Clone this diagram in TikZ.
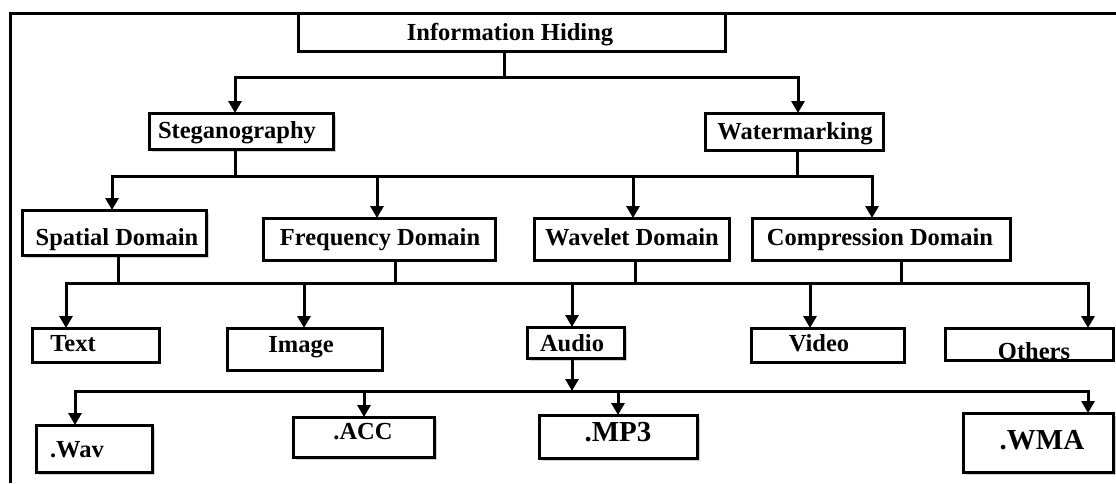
\documentclass[tikz,border=0pt]{standalone}
\usepackage{fontspec}
\setmainfont{Liberation Serif}
\usetikzlibrary{arrows.meta,shadows}
\begin{document}
\begin{tikzpicture}[x=1pt,y=-1pt,
  ln/.style={line width=3pt,line cap=rect},
  arr/.style={line width=3pt,-{Triangle[width=13pt,length=12pt]}},
  box/.style={draw,line width=3pt,fill=white,inner sep=0pt,outer sep=0pt},
  shd/.style={drop shadow={shadow xshift=3pt,shadow yshift=-3pt,fill=black!30,opacity=0.6}},
  lbl/.style={font=\bfseries\fontsize{24.5}{26}\selectfont,inner sep=0pt,anchor=base},
  big/.style={font=\bfseries\fontsize{29}{31}\selectfont,inner sep=0pt,anchor=base}
]
\useasboundingbox (0,0) rectangle (1116,483);
% frame
\coordinate (frTL) at (10,13);
\coordinate (frBL) at (10,483);
\coordinate (frTR) at (1116,13);
\draw[ln,line cap=butt] (frBL) -- (frTL) -- (frTR);

% boxes
\node[box,minimum width=427pt,minimum height=38pt] (ih) at (511.5,32) {};
\node[box,shd,minimum width=184pt,minimum height=36pt] (steg) at (241,131) {};
\node[box,minimum width=178pt,minimum height=37pt] (water) at (794,131.5) {};
\node[box,shd,minimum width=184pt,minimum height=45pt] (spat) at (114,232.5) {};
\node[box,minimum width=232pt,minimum height=42pt] (freq) at (379,239) {};
\node[box,minimum width=195pt,minimum height=42pt] (wave) at (631.5,239) {};
\node[box,minimum width=258pt,minimum height=42pt] (comp) at (881,239) {};
\node[box,minimum width=127pt,minimum height=34pt] (text) at (95.5,345) {};
\node[box,minimum width=155pt,minimum height=42pt] (image) at (304.5,349) {};
\node[box,shd,minimum width=97pt,minimum height=31pt] (audio) at (575.5,342.5) {};
\node[box,minimum width=153pt,minimum height=34pt] (video) at (827.5,345) {};
\node[box,minimum width=168pt,minimum height=32pt] (others) at (1029,344) {};
\node[box,shd,minimum width=116pt,minimum height=47pt] (wav) at (94,448.5) {};
\node[box,shd,minimum width=141pt,minimum height=40pt] (acc) at (363.5,437) {};
\node[box,shd,minimum width=158pt,minimum height=43pt] (mp3) at (618,436.5) {};
\node[box,shd,minimum width=150pt,minimum height=59pt] (wma) at (1038,442.5) {};

% labels (base anchored)
\node[lbl] (tih) at (510,40) {Information Hiding};
\node[lbl] (tsteg) at (237,138) {Steganography};
\node[lbl] (twater) at (795,139) {Watermarking};
\node[lbl] (tspat) at (117,245) {Spatial Domain};
\node[lbl] (tfreq) at (380,245) {Frequency Domain};
\node[lbl] (twave) at (632,245) {Wavelet Domain};
\node[lbl] (tcomp) at (880,245) {Compression Domain};
\node[lbl] (ttext) at (73,351) {Text};
\node[lbl] (timage) at (301,352) {Image};
\node[lbl] (taudio) at (572,351) {Audio};
\node[lbl] (tvideo) at (819,351) {Video};
\begin{scope}
\clip (others.north west) rectangle ([yshift=1.5pt]others.south east);
\node[lbl] (tothers) at (1034,359) {Others};
\end{scope}
\node[lbl] (twav) at (77,457) {.Wav};
\node[lbl] (tacc) at (363,439) {.ACC};
\node[big] (tmp3) at (618,441) {.MP3};
\node[big] (twma) at (1042,449) {.WMA};

% level 1
\coordinate (d0) at (504,77);
\coordinate (r1L) at (235,77);
\coordinate (r1R) at (798,77);
\draw[ln] (d0 |- ih.south) -- (d0);
\draw[ln] (r1L) -- (r1R);
\draw[arr] (r1L) -- (r1L |- steg.north);
\draw[arr] (r1R) -- (r1R |- water.north);

% level 2
\coordinate (d1a) at (235,176);
\coordinate (d1b) at (797,176);
\coordinate (r2L) at (112,176);
\coordinate (r2R) at (872,176);
\coordinate (a2b) at (377,176);
\coordinate (a2c) at (633,176);
\draw[ln] (d1a |- steg.south) -- (d1a);
\draw[ln] (d1b |- water.south) -- (d1b);
\draw[ln] (r2L) -- (r2R);
\draw[arr] (r2L) -- (r2L |- spat.north);
\draw[arr] (a2b) -- (a2b |- freq.north);
\draw[arr] (a2c) -- (a2c |- wave.north);
\draw[arr] (r2R) -- (r2R |- comp.north);

% level 3
\coordinate (d2a) at (118,283);
\coordinate (d2b) at (395,283);
\coordinate (d2c) at (635,283);
\coordinate (d2d) at (901,283);
\coordinate (r3L) at (66,283);
\coordinate (r3R) at (1088,283);
\coordinate (a3b) at (304,283);
\coordinate (a3c) at (572,283);
\coordinate (a3d) at (810,283);
\draw[ln] (d2a |- spat.south) -- (d2a);
\draw[ln] (d2b |- freq.south) -- (d2b);
\draw[ln] (d2c |- wave.south) -- (d2c);
\draw[ln] (d2d |- comp.south) -- (d2d);
\draw[ln] (r3L) -- (r3R);
\draw[arr] (r3L) -- (r3L |- text.north);
\draw[arr] (a3b) -- (a3b |- image.north);
\draw[arr] (a3c) -- (a3c |- audio.north);
\draw[arr] (a3d) -- (a3d |- video.north);
\draw[arr] (r3R) -- (r3R |- others.north);

% level 4
\coordinate (d3) at (572,391);
\coordinate (r4L) at (75,391);
\coordinate (r4R) at (1088,391);
\coordinate (a4b) at (364,391);
\coordinate (a4c) at (618,391);
\draw[arr] (d3 |- audio.south) -- (d3);
\draw[ln] (r4L) -- (r4R);
\draw[arr] (r4L) -- (r4L |- wav.north);
\draw[arr] (a4b) -- (a4b |- acc.north);
\draw[arr] (a4c) -- (a4c |- mp3.north);
\draw[arr] (r4R) -- (r4R |- wma.north);
\end{tikzpicture}
\end{document}
